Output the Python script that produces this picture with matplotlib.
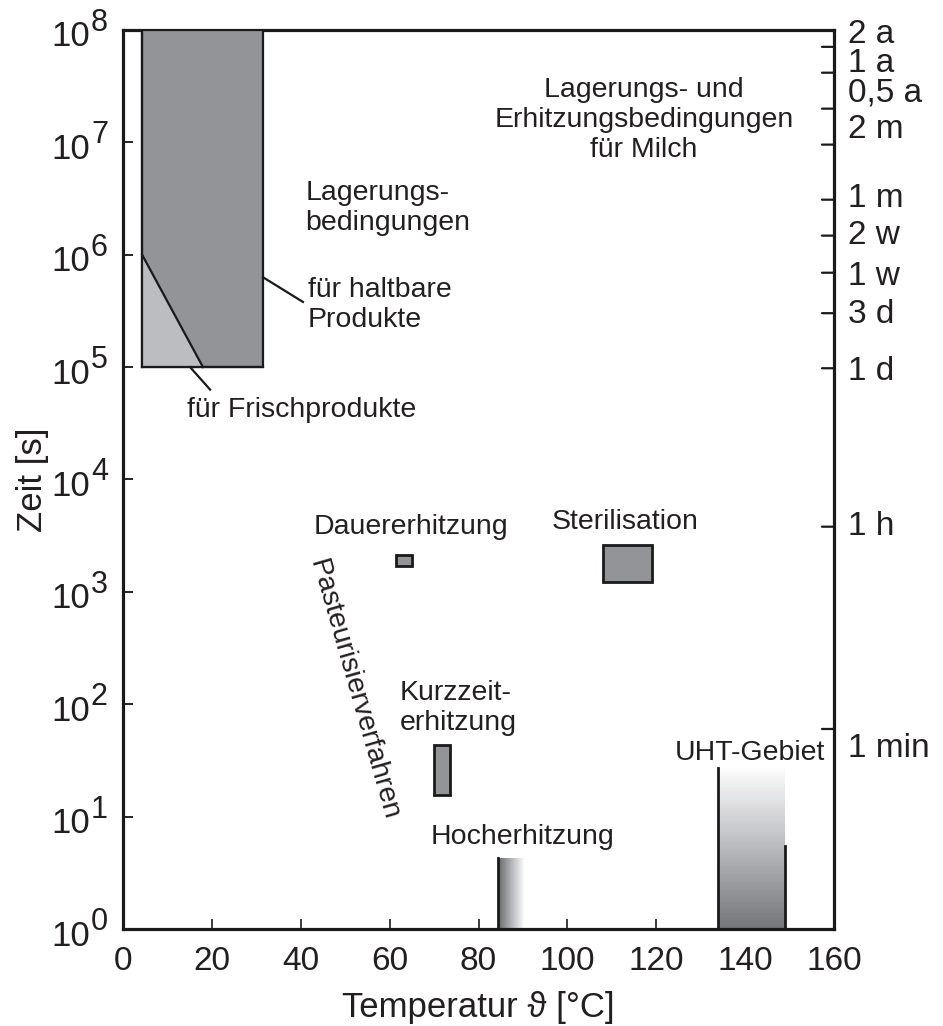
import numpy as np
import matplotlib
matplotlib.use("Agg")
import matplotlib.pyplot as plt
from matplotlib.colors import LinearSegmentedColormap

plt.rcParams['font.family'] = ['Liberation Sans', 'DejaVu Sans']

# ---------------- data ----------------
x_ticks = [0, 20, 40, 60, 80, 100, 120, 140, 160]
y_exponents = [0, 1, 2, 3, 4, 5, 6, 7, 8]

right_tick_exp = [7.85, 7.62, 7.30, 6.98, 6.49, 6.17, 5.84, 5.48, 4.99, 3.58, 1.78]
right_tick_labels = ['2 a', '1 a', '0,5 a', '2 m', '1 m', '2 w', '1 w', '3 d', '1 d', '1 h', '1 min']

storage_T = [4.3, 31.5]           # Lagerung haltbare Produkte
storage_t = [1e5, 1e8]
fresh_T = [4.3, 4.3, 18.0]        # Frischprodukte (Dreieck)
fresh_t = [1e6, 1e5, 1e5]

dauer_T = [61.5, 65.0]
dauer_t = [1700, 2150]
steril_T = [108.0, 119.0]
steril_t = [1230, 2620]
kurz_T = [70.0, 73.5]
kurz_t = [15.5, 43.0]
hoch_T = [84.5, 90.5]
hoch_t = [1.0, 4.3]
uht_T = [134.0, 149.0]
uht_t = [1.0, 27.0]
uht_t_right = 5.5

# ---------------- layout / style ----------------
W, H, DPI = 943, 1026, 100
fig = plt.figure(figsize=(W / DPI, H / DPI), dpi=DPI)
ax = fig.add_axes([123 / W, 1 - 929 / H, (834 - 123) / W, (929 - 30) / H])
ax.set_yscale('log')
ax.set_xlim(0, 160)
ax.set_ylim(1, 1e8)

dark = '#939498'
light = '#bcbdc1'
edge = '#1a1a1a'
tc = '#231f20'

def rect(Tr, tr, fc, lw=1.6):
    ax.fill([Tr[0], Tr[1], Tr[1], Tr[0]], [tr[0], tr[0], tr[1], tr[1]],
            facecolor=fc, edgecolor=edge, linewidth=lw, zorder=3)

# storage box
rect(storage_T, storage_t, dark)
ax.fill(fresh_T, fresh_t, facecolor=light, edgecolor='none', zorder=4)
ax.plot([fresh_T[0], fresh_T[2]], [fresh_t[0], fresh_t[2]], color=edge, lw=1.6, zorder=5)
ax.plot([storage_T[0], storage_T[0]], storage_t, color=edge, lw=1.6, zorder=5)
ax.plot(storage_T, [storage_t[0], storage_t[0]], color=edge, lw=1.6, zorder=5)

# small boxes
rect(dauer_T, dauer_t, dark, lw=2)
rect(steril_T, steril_t, dark, lw=2)
rect(kurz_T, kurz_t, dark, lw=2)

# Hocherhitzung: horizontal gradient
cmap_h = LinearSegmentedColormap.from_list('h', ['#6a6b6f', '#b5b6ba', '#ffffff'])
n = 60
xs = np.linspace(hoch_T[0], hoch_T[1], n + 1)
for i in range(n):
    ax.fill_between([xs[i], xs[i + 1]], hoch_t[0], hoch_t[1],
                    color=cmap_h(i / (n - 1)), lw=0, zorder=2)
ax.plot([hoch_T[0], hoch_T[0]], hoch_t, color=edge, lw=2, zorder=3)

# UHT: vertical gradient (white top -> grey bottom)
cmap_u = LinearSegmentedColormap.from_list('u', ['#75767a', '#b8b9bd', '#fbfbfb'])
ys = np.geomspace(uht_t[0], uht_t[1], n + 1)
for i in range(n):
    ax.fill_between(uht_T, ys[i], ys[i + 1], color=cmap_u(i / (n - 1)), lw=0, zorder=2)
ax.plot([uht_T[0], uht_T[0]], uht_t, color=edge, lw=2, zorder=3)
ax.plot([uht_T[1], uht_T[1]], [uht_t[0], uht_t_right], color=edge, lw=2, zorder=3)

# leader lines
ax.plot([31.5, 40.5], [10 ** 5.80, 10 ** 5.58], color=edge, lw=1.6, zorder=5)
ax.plot([15.1, 19.6], [1e5, 10 ** 4.80], color=edge, lw=1.6, zorder=5)

# annotations
fs = 20.5
ls = 1.2
ax.text(41.0, 10 ** 6.42, 'Lagerungs-\nbedingungen', fontsize=fs, ha='left', va='center',
        linespacing=ls, color=tc)
ax.text(41.6, 10 ** 5.55, 'für haltbare\nProdukte', fontsize=fs, ha='left', va='center',
        linespacing=ls, color=tc)
ax.text(14.4, 10 ** 4.62, 'für Frischprodukte', fontsize=fs, ha='left', va='center', color=tc)
ax.text(117.2, 10 ** 7.2, 'Lagerungs- und\nErhitzungsbedingungen\nfür Milch', fontsize=fs,
        ha='center', va='center', linespacing=ls, color=tc)
ax.text(64.8, 10 ** 3.58, 'Dauererhitzung', fontsize=fs, ha='center', va='center', color=tc)
ax.text(113.0, 10 ** 3.62, 'Sterilisation', fontsize=fs, ha='center', va='center', color=tc)
ax.text(62.3, 10 ** 1.97, 'Kurzzeit-\nerhitzung', fontsize=fs, ha='left', va='center',
        linespacing=ls, color=tc)
ax.text(89.9, 10 ** 0.82, 'Hocherhitzung', fontsize=fs, ha='center', va='center', color=tc)
ax.text(141.0, 10 ** 1.57, 'UHT-Gebiet', fontsize=fs, ha='center', va='center', color=tc)
ax.text(52.0, 10 ** 2.13, 'Pasteurisierverfahren', fontsize=fs, ha='center', va='center',
        rotation=-74, rotation_mode='anchor', color=tc)

# axes styling
for s in ax.spines.values():
    s.set_linewidth(2.3)
    s.set_color(edge)

ax.set_xticks(x_ticks)
ax.set_xticklabels([str(v) for v in x_ticks])
ax.tick_params(axis='x', direction='in', length=7, width=1.2, labelsize=24, pad=12,
               top=False, colors=edge, labelcolor=tc)
ax.set_yticks([10.0 ** e for e in y_exponents])
ax.set_yticklabels([])
ax.yaxis.set_minor_locator(matplotlib.ticker.NullLocator())
ax.tick_params(axis='y', direction='in', length=7, width=1.2, right=False)

# left tick labels: "10" + exponent
for e in y_exponents:
    ax.annotate('10', xy=(0, 10.0 ** e), xycoords=('axes fraction', 'data'),
                xytext=(-33, -7), textcoords='offset pixels', ha='right', va='center',
                fontsize=25, color=tc)
    ax.annotate(str(e), xy=(0, 10.0 ** e), xycoords=('axes fraction', 'data'),
                xytext=(-32, 7), textcoords='offset pixels', ha='left', va='center',
                fontsize=22, color=tc)

# right ticks + labels
label_offsets = [12, 9, 16, 15, 1, 0, -4, -1, -3, 0, -20]
for ev, lab, off in zip(right_tick_exp, right_tick_labels, label_offsets):
    ax.annotate('', xy=(1, 10 ** ev), xycoords=('axes fraction', 'data'),
                xytext=(-12, 0), textcoords='offset pixels',
                arrowprops=dict(arrowstyle='-', lw=1.6, color=edge, shrinkA=0, shrinkB=0))
    ax.annotate(lab, xy=(1, 10 ** ev), xycoords=('axes fraction', 'data'),
                xytext=(14, off), textcoords='offset pixels', ha='left', va='center',
                fontsize=24, color=tc)

ax.set_xlabel('Temperatur ϑ [°C]', fontsize=25, labelpad=10, color=tc)
ax.set_ylabel('Zeit [s]', fontsize=25, labelpad=50, color=tc)

fig.savefig('out.png', dpi=DPI)
